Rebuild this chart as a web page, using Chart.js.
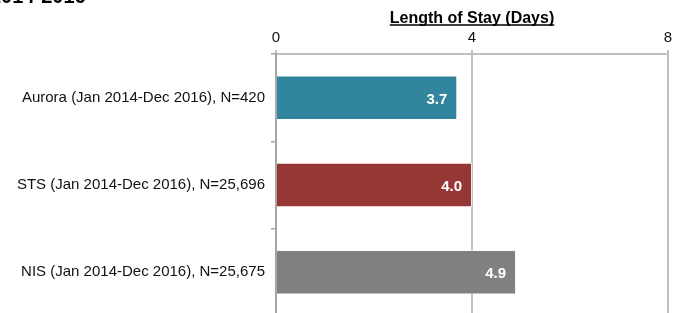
<!DOCTYPE html>
<html lang="en">
<head>
    <meta charset="utf-8">
    <title>Length of Stay</title>
    <script src="https://cdn.jsdelivr.net/npm/chart.js@4"></script>
    <style>
        html, body { margin: 0; padding: 0; background: #fff; overflow: hidden; }
        #wrap { width: 684px; height: 331px; }
    </style>
</head>
<body>
<div id="wrap"><canvas id="los-chart" width="684" height="331"></canvas></div>
<script>
"use strict";

// data
const groups = [
    "Aurora (Jan 2014-Dec 2016), N=420",
    "STS (Jan 2014-Dec 2016), N=25,696",
    "NIS (Jan 2014-Dec 2016), N=25,675"
];
const lengthOfStay = [3.7, 4.0, 4.9];
const barColors = ["#31859C", "#953735", "#808080"];
const xTicks = [0, 4, 8];
const axisTitle = "Length of Stay (Days)";
const headerText = "2014-2016";

const FONT = "'Liberation Sans', Arial, sans-serif";

// white value labels at the end of each bar + underline for the axis title
const extras = {
    id: "extras",
    afterDatasetsDraw(chart) {
        const ctx = chart.ctx;
        const meta = chart.getDatasetMeta(0);
        ctx.save();
        ctx.fillStyle = "#fff";
        ctx.font = "bold 15px " + FONT;
        ctx.textAlign = "right";
        ctx.textBaseline = "middle";
        meta.data.forEach((bar, i) => {
            ctx.fillText(lengthOfStay[i].toFixed(1), bar.x - 10, bar.y + 2);
        });
        ctx.restore();
    },
    afterDraw(chart) {
        const ctx = chart.ctx;
        const x = chart.scales.x;
        ctx.save();
        ctx.font = "bold 16px " + FONT;
        const w = ctx.measureText(axisTitle).width;
        const cx = (x.left + x.right) / 2;
        ctx.strokeStyle = "#000";
        ctx.lineWidth = 1.5;
        ctx.beginPath();
        ctx.moveTo(cx - w / 2, 25);
        ctx.lineTo(cx + w / 2, 25);
        ctx.stroke();

        // cut-off header above the chart
        ctx.fillStyle = "#000";
        ctx.font = "bold 20px " + FONT;
        ctx.textAlign = "left";
        ctx.textBaseline = "alphabetic";
        ctx.fillText(headerText, -10, 3);
        ctx.restore();
    }
};

new Chart(document.getElementById("los-chart"), {
    type: "bar",
    data: {
        labels: groups,
        datasets: [{
            data: lengthOfStay,
            backgroundColor: barColors,
            borderColor: "rgba(255,255,255,0.7)",
            borderWidth: 1,
            barPercentage: 1,
            categoryPercentage: 0.51
        }]
    },
    options: {
        indexAxis: "y",
        responsive: false,
        animation: false,
        layout: { padding: { left: 0, right: 16, top: 0, bottom: 0 } },
        plugins: {
            legend: { display: false },
            tooltip: { enabled: false }
        },
        scales: {
            x: {
                position: "top",
                min: 0,
                max: 8,
                afterBuildTicks: scale => {
                    scale.ticks = xTicks.map(v => ({ value: v }));
                },
                afterFit: scale => { scale.height = 54; },
                grid: {
                    color: "#BFBFBF",
                    lineWidth: 2,
                    tickLength: 4
                },
                border: { color: "#BFBFBF", width: 2 },
                ticks: {
                    color: "#111",
                    padding: 3,
                    font: { family: FONT, size: 15 }
                },
                title: {
                    display: true,
                    text: axisTitle,
                    color: "#000",
                    padding: { top: 9, bottom: 0 },
                    font: { family: FONT, size: 16, weight: "bold" }
                }
            },
            y: {
                afterFit: scale => { scale.width = 276; },
                grid: {
                    drawOnChartArea: false,
                    color: "#A6A6A6",
                    lineWidth: 1.5,
                    tickLength: 5
                },
                border: { color: "#A6A6A6", width: 2 },
                ticks: {
                    color: "#111",
                    padding: 6,
                    font: { family: FONT, size: 15 }
                }
            }
        }
    },
    plugins: [extras]
});
</script>
</body>
</html>
